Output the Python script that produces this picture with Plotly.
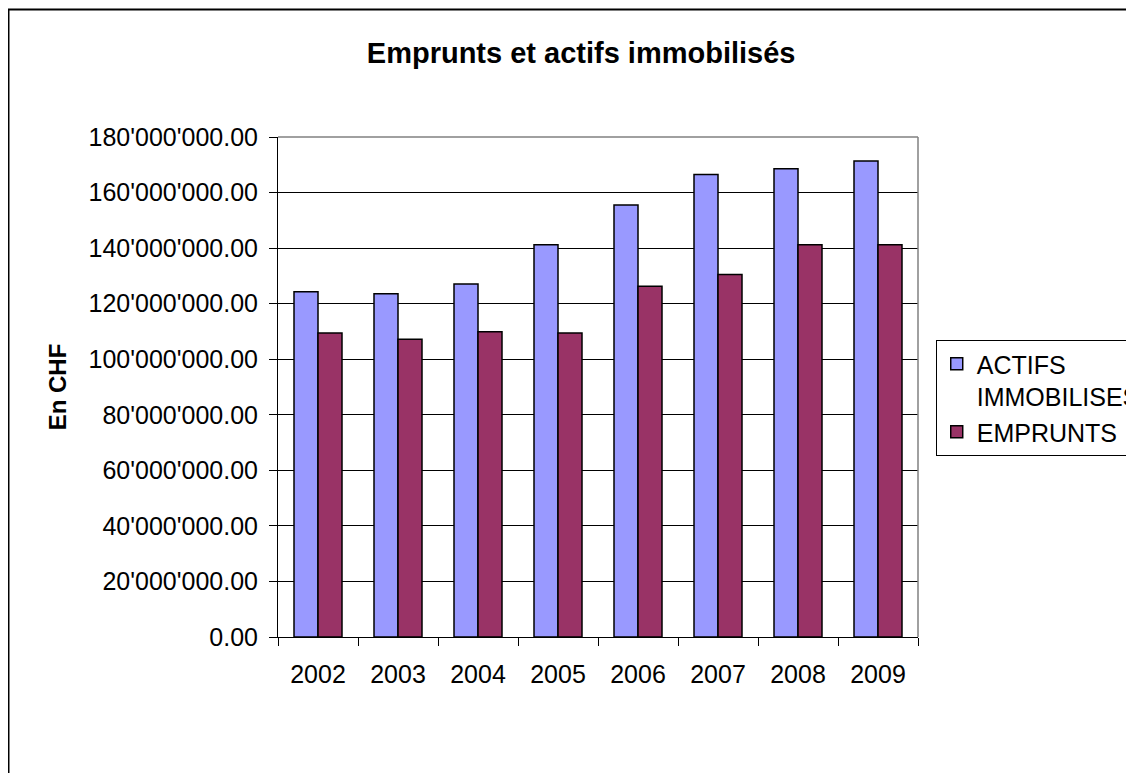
import plotly.graph_objects as go

# Data
years = ["2002", "2003", "2004", "2005", "2006", "2007", "2008", "2009"]
actifs = [124300000, 123600000, 127100000, 141200000, 155500000, 166500000, 168600000, 171400000]
emprunts = [109400000, 107200000, 109900000, 109400000, 126300000, 130500000, 141200000, 141200000]

y_tickvals = [0, 20000000, 40000000, 60000000, 80000000, 100000000, 120000000, 140000000, 160000000, 180000000]
y_ticktext = ["0.00", "20'000'000.00", "40'000'000.00", "60'000'000.00", "80'000'000.00",
              "100'000'000.00", "120'000'000.00", "140'000'000.00", "160'000'000.00", "180'000'000.00"]

font_family = "Liberation Sans, Arial, sans-serif"

fig = go.Figure()

fig.add_trace(go.Bar(
    x=years, y=actifs, name="ACTIFS<br>IMMOBILISES",
    marker=dict(color="#9999FF", line=dict(color="black", width=1.5)),
))
fig.add_trace(go.Bar(
    x=years, y=emprunts, name="EMPRUNTS",
    marker=dict(color="#993366", line=dict(color="black", width=1.5)),
))

# page body has an 8px margin, so the figure is sized to fit the rest of the window
fig.update_layout(
    width=1126, height=765,
    margin=dict(l=270, r=216, t=129, b=136, autoexpand=False),
    paper_bgcolor="white", plot_bgcolor="white",
    font=dict(family=font_family, size=25, color="black"),
    barmode="group", bargap=0.4, bargroupgap=0,
    title=dict(text="<b>Emprunts et actifs immobilisés</b>", font=dict(size=29),
               xref="container", x=0.509, xanchor="center",
               yref="container", y=0.942, yanchor="middle"),
    legend=dict(x=1.0277, xanchor="left", y=0.594, yanchor="top",
                bordercolor="black", borderwidth=1, bgcolor="white",
                font=dict(size=25), valign="top", traceorder="normal"),
    showlegend=True,
)

fig.update_xaxes(
    type="category", showgrid=False, showline=True, linecolor="black", linewidth=1,
    ticks="outside", ticklen=8, tickcolor="black", tickson="boundaries",
    ticklabelstandoff=15, tickfont=dict(size=25),
)
fig.update_yaxes(
    range=[0, 180000000], tickvals=y_tickvals, ticktext=y_ticktext,
    showgrid=True, gridcolor="black", gridwidth=1,
    showline=True, linecolor="black", linewidth=1,
    ticks="outside", ticklen=8, tickcolor="black",
    ticklabelstandoff=6, tickfont=dict(size=25), zeroline=False,
    title=dict(text="<b>En CHF</b>", font=dict(size=24), standoff=15),
)

# plot frame (top and right in grey)
fig.add_shape(type="line", xref="paper", yref="paper", x0=0, x1=1, y0=1, y1=1,
              line=dict(color="#808080", width=1.5), layer="above")
fig.add_shape(type="line", xref="paper", yref="paper", x0=1, x1=1, y0=0, y1=1,
              line=dict(color="#808080", width=1.5), layer="above")
# outer chart border
fig.add_shape(type="rect", xref="paper", yref="paper", x0=-0.4211, x1=1.5, y0=1.255, y1=-0.4,
              line=dict(color="black", width=2), layer="above")

fig.write_html("out.html")
